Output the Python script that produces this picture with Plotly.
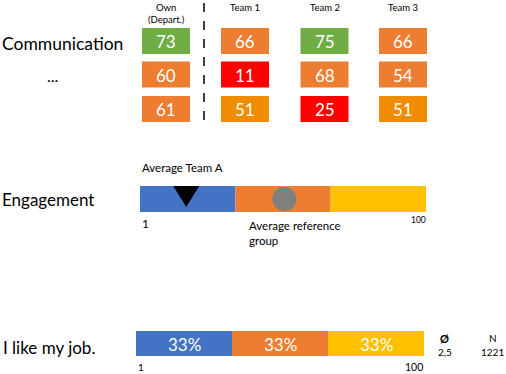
import plotly.graph_objects as go

# ---------------- data ----------------
row_labels = ["Communication", "...", ""]
column_labels = ["Own<br>(Depart.)", "Team 1", "Team 2", "Team 3"]
own_values = [73, 60, 61]
team1_values = [66, 11, 51]
team2_values = [75, 68, 25]
team3_values = [66, 54, 51]

engagement_label = "Engagement"
engagement_bounds = [1, 34, 67, 100]
engagement_team_avg = 17
engagement_ref_avg = 51

job_label = "I like my job."
job_shares = [33, 33, 33]
job_mean = "2,5"
job_n = 1221
scale_min, scale_max = 1, 100

# ---------------- layout constants ----------------
W, H = 506, 374
FONT = "Lato"
col_x = [166, 245, 324.5, 403]
row_y = [41, 74.5, 109]
tile_w, tile_h = 48, 26

BLUE, ORANGE, YELLOW = "#4472C4", "#ED7D31", "#FFC000"


def tile_color(v):
    if v >= 70:
        return "#70AD47"
    if v >= 53:
        return "#ED7D31"
    if v >= 50:
        return "#F08C00"
    return "#FF0000"


shapes, annotations = [], []


def text(x, y, s, size, color="black", xanchor="center", yanchor="middle", bold=False, align="center"):
    annotations.append(dict(
        x=x, y=y, xref="x", yref="y", text=(f"<b>{s}</b>" if bold else s),
        showarrow=False, xanchor=xanchor, yanchor=yanchor, align=align,
        font=dict(family=FONT, size=size, color=color)))


# -------- communication tiles --------
text(0, 43, row_labels[0], 17.5, xanchor="left")
text(52, 75, row_labels[1], 16)

columns = [own_values, team1_values, team2_values, team3_values]
for ci, (lab, vals) in enumerate(zip(column_labels, columns)):
    text(col_x[ci], 0, lab, 9.5, yanchor="top")
    for ri, v in enumerate(vals):
        cx, cy = col_x[ci], row_y[ri]
        shapes.append(dict(type="rect", xref="x", yref="y",
                           x0=cx - tile_w / 2, x1=cx + tile_w / 2,
                           y0=cy - tile_h / 2, y1=cy + tile_h / 2,
                           fillcolor=tile_color(v), line=dict(width=0), layer="below"))
        text(cx, cy + 0.5, str(v), 17, color="white")

shapes.append(dict(type="line", xref="x", yref="y", x0=204, x1=204, y0=3, y1=126,
                   line=dict(color="black", width=1.5, dash="dash")))

# -------- engagement bar --------
eng_x0, eng_x1, eng_y0, eng_y1 = 140, 426, 186, 212


def eng_px(v):
    return eng_x0 + (v - scale_min) / (scale_max - scale_min) * (eng_x1 - eng_x0)


text(0, 199, engagement_label, 17, xanchor="left")
for i, c in enumerate([BLUE, ORANGE, YELLOW]):
    shapes.append(dict(type="rect", xref="x", yref="y",
                       x0=eng_px(engagement_bounds[i]), x1=eng_px(engagement_bounds[i + 1]),
                       y0=eng_y0, y1=eng_y1, fillcolor=c, line=dict(width=0), layer="below"))
tx = eng_px(engagement_team_avg)
shapes.append(dict(type="path", xref="x", yref="y",
                   path=f"M {tx-13},{eng_y0} L {tx+13},{eng_y0} L {tx},{eng_y0+21} Z",
                   fillcolor="black", line=dict(width=0)))
rx = eng_px(engagement_ref_avg)
shapes.append(dict(type="circle", xref="x", yref="y", x0=rx - 12, x1=rx + 12,
                   y0=199 - 12, y1=199 + 12, fillcolor="#7F7F7F", line=dict(width=0)))
text(140, 167, "Average Team A", 11.5, xanchor="left")
text(247, 233, "Average reference<br>group", 11.5, xanchor="left", align="left")
text(140, 223, str(scale_min), 12, xanchor="left")
text(428, 220, str(scale_max), 8.5, xanchor="right")

# -------- job bar --------
job_x0, job_x1, job_y0, job_y1 = 136, 424, 331, 356
text(1, 347, job_label, 17, xanchor="left")
total = sum(job_shares)
cum = 0
for s, c in zip(job_shares, [BLUE, ORANGE, YELLOW]):
    a = job_x0 + cum / total * (job_x1 - job_x0)
    cum += s
    b = job_x0 + cum / total * (job_x1 - job_x0)
    shapes.append(dict(type="rect", xref="x", yref="y", x0=a, x1=b, y0=job_y0, y1=job_y1,
                       fillcolor=c, line=dict(width=0), layer="below"))
    text((a + b) / 2, (job_y0 + job_y1) / 2 + 0.5, f"{s}%", 17, color="white")
text(141, 367, str(scale_min), 10)
text(414, 367, str(scale_max), 10.5)
text(444, 338, "Ø", 11, bold=True)
text(445, 352, job_mean, 10)
text(493, 338, "N", 10)
text(492, 352, str(job_n), 10)

fig = go.Figure()
fig.add_trace(go.Scatter(x=[0, W], y=[0, H], mode="markers", marker=dict(opacity=0),
                         hoverinfo="skip", showlegend=False))
fig.update_layout(
    width=W, height=H, margin=dict(l=0, r=0, t=0, b=0),
    paper_bgcolor="white", plot_bgcolor="white",
    xaxis=dict(range=[0, W], visible=False, fixedrange=True),
    yaxis=dict(range=[H, 0], visible=False, fixedrange=True),
    shapes=shapes, annotations=annotations, showlegend=False,
)
fig.write_html("out.html", config={"displayModeBar": False},
               post_script="document.body.style.margin='0';document.body.style.overflow='hidden';")
